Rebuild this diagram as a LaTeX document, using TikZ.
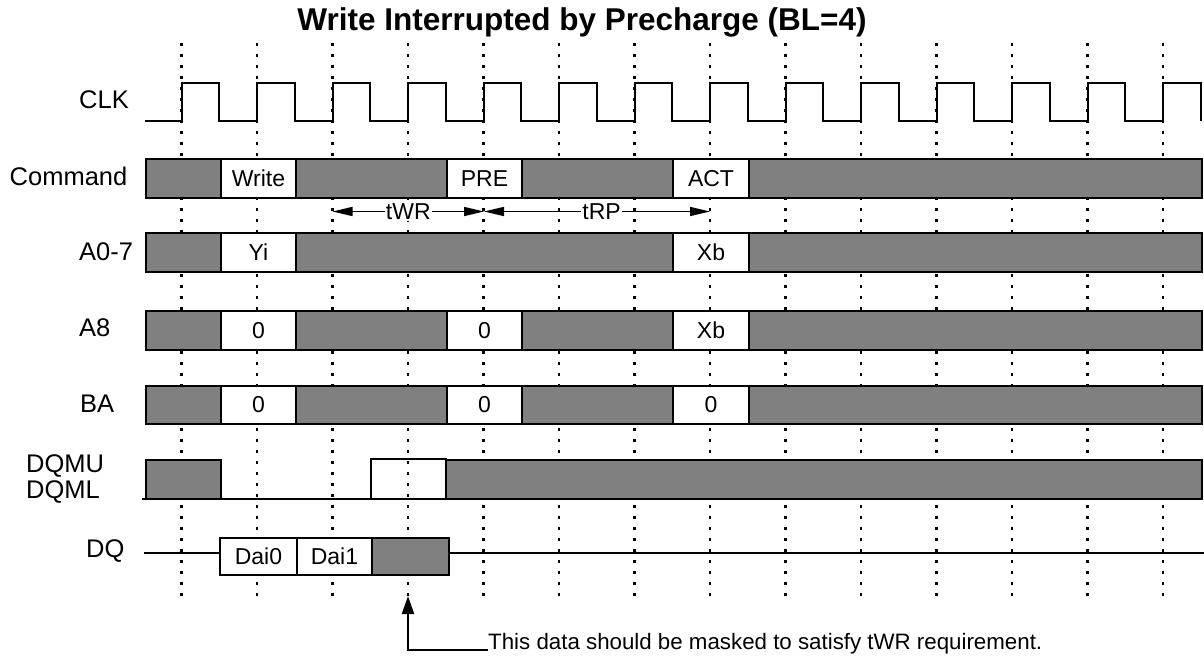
\documentclass[tikz,border=0pt]{standalone}
\usepackage{fontspec}
\setmainfont{Liberation Sans}
\usetikzlibrary{arrows.meta, positioning}
\tikzstyle{signame} = [anchor=base west, inner sep=0pt, font=\fontsize{25.5}{30}\selectfont]
\tikzstyle{cell} = [rectangle, draw=black, line width=2pt, fill=white, minimum width=75.5pt, minimum height=39pt, inner sep=0pt, font=\fontsize{23}{27}\selectfont]
\tikzstyle{busy} = [draw=black, line width=2pt, fill=black!50]
\tikzstyle{tick} = [line width=2.6pt, dash pattern=on 3pt off 8pt]
\tikzstyle{wave} = [line width=2pt]
\tikzstyle{dimline} = [line width=1.5pt, <->, >={Triangle[length=20pt, width=9pt]}]
\tikzstyle{arrow} = [line width=2pt, ->, >={Triangle[length=18pt, width=12pt]}]

\begin{document}
\begin{tikzpicture}[x=1pt, y=-1pt]
 \useasboundingbox (0,0) rectangle (1204,658);

 \node (title) [anchor=base, font=\fontsize{31.5}{36}\selectfont\bfseries] at (582,31) {Write Interrupted by Precharge (BL=4)};

 % clock edges
 \foreach \k in {0,...,13}
  \draw[tick] (181.5+75.5*\k,43) -- (181.5+75.5*\k,598);

 % CLK
 \node (clk) [signame] at (79,108.5) {CLK};
 \draw[wave] (145,121) foreach \k in {0,...,13} {
  -- (181.5+75.5*\k,121) |- (219.25+75.5*\k,83.5) -- (219.25+75.5*\k,121)};

 % Command
 \node (command) [signame] at (9.5,185.7) {Command};
 \draw[busy] (146,159) rectangle (1202,198);
 \node (cmdwrite) [cell] at (258.5,178.5) {Write};
 \node (cmdpre) [cell] at (484.5,178.5) {PRE};
 \node (cmdact) [cell] at (711,178.5) {ACT};

 \coordinate (wrstart) at (332.5,211.5);
 \coordinate (wrend) at (484,211.5);
 \coordinate (rpend) at (710,211.5);
 \draw[dimline] (wrstart) -- node[fill=white, inner sep=1pt, font=\fontsize{23}{27}\selectfont] (twr) {tWR} (wrend);
 \draw[dimline] (wrend) -- node[pos=0.52, fill=white, inner sep=1pt, font=\fontsize{23}{27}\selectfont] (trp) {tRP} (rpend);

 % A0-7
 \node (addrlo) [signame] at (79,260) {A0-7};
 \draw[busy] (146,233) rectangle (1202,272);
 \node (addryi) [cell] at (258.5,252.5) {Yi};
 \node (addrxb) [cell] at (711,252.5) {Xb};

 % A8
 \node (addrhi) [signame] at (79,336.5) {A8};
 \draw[busy] (146,311) rectangle (1202,350);
 \node (apwr) [cell] at (258.5,330.5) {0};
 \node (appre) [cell] at (484.5,330.5) {0};
 \node (apact) [cell] at (711,330.5) {Xb};

 % BA
 \node (bank) [signame] at (80,412.5) {BA};
 \draw[busy] (146,386) rectangle (1202,424);
 \node (bawr) [cell, minimum height=38pt] at (258.5,405) {0};
 \node (bapre) [cell, minimum height=38pt] at (484.5,405) {0};
 \node (baact) [cell, minimum height=38pt] at (711,405) {0};

 % DQMU / DQML
 \node (dqmu) [signame] at (26,472) {DQMU};
 \node (dqml) [signame] at (26,498) {DQML};
 \draw[busy] (146,460) rectangle (221,499);
 \draw[wave] (142,499) -- (446,499);
 \draw[wave] (371,459) rectangle (446,499);
 \draw[busy] (446,460) rectangle (1202,499);

 % DQ
 \node (dq) [signame] at (86,557) {DQ};
 \draw[wave] (144,553) -- (220,553);
 \node (dai0) [cell, minimum height=37pt, minimum width=77pt] at (258.5,556.5) {Dai0};
 \node (dai1) [cell, minimum height=37pt, minimum width=75pt] at (334.5,556.5) {Dai1};
 \draw[busy] (372,538) rectangle (449,575);
 \draw[wave] (449,553) -- (1204,553);

 % note
 \node (note) [anchor=base west, inner sep=0pt, font=\fontsize{22.3}{26}\selectfont] at (488,649.5) {This data should be masked to satisfy tWR requirement.};
 \coordinate (masktip) at (408,596);
 \draw[arrow] (note.base west) -| (masktip);
\end{tikzpicture}
\end{document}
